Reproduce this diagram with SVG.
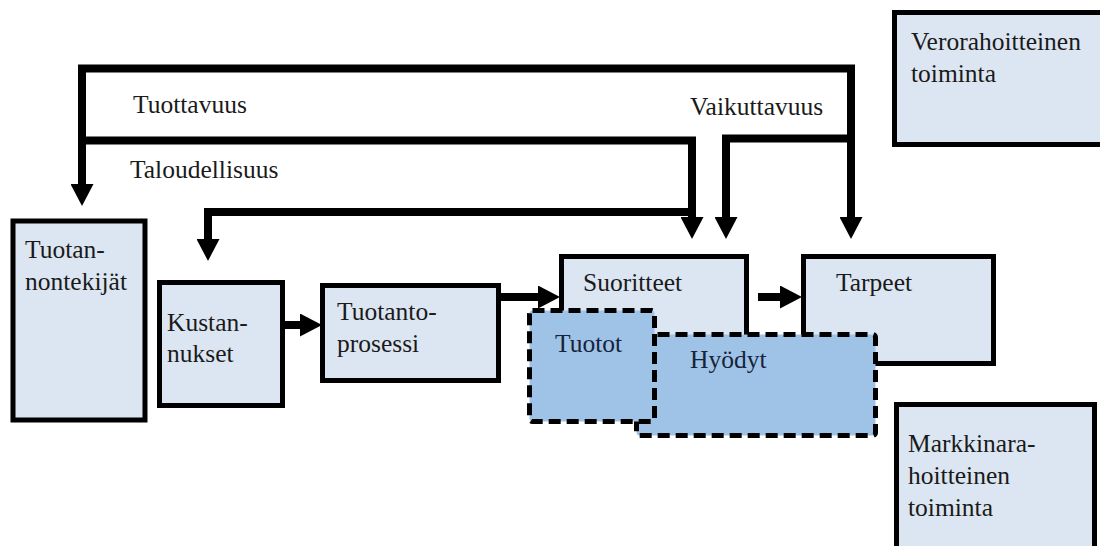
<svg xmlns="http://www.w3.org/2000/svg" width="1100" height="546" viewBox="0 0 1100 546">
  <style>
    .box { fill: #dce6f2; stroke: #000; stroke-width: 5; }
    .dash { fill: #9fc3e7; stroke: #000; stroke-width: 5; stroke-dasharray: 12 6; }
    .conn { fill: none; stroke: #000; stroke-width: 8; stroke-linejoin: miter; }
    .t { font-family: "Liberation Serif", "DejaVu Serif", "Times New Roman", serif; font-size: 25.5px; fill: #1a1a1a; }
    .td { font-family: "Liberation Serif", "DejaVu Serif", "Times New Roman", serif; font-size: 25.5px; fill: #16233a; }
  </style>
  <defs>
    <marker id="ah" viewBox="0 0 22 23" refX="1" refY="11.5" markerWidth="22" markerHeight="23" markerUnits="userSpaceOnUse" orient="auto-start-reverse">
      <path d="M0,0 L22,11.5 L0,23 z" fill="#000"/>
    </marker>
  </defs>
  <rect width="1100" height="546" fill="#fff"/>

  <g id="connectors">
    <path class="conn" d="M82,185 V68.5 H851 V218" marker-start="url(#ah)" marker-end="url(#ah)"/>
    <path class="conn" d="M78,140.5 H692 V218" marker-end="url(#ah)"/>
    <path class="conn" d="M696,212 H208 V240" marker-end="url(#ah)"/>
    <path class="conn" d="M855,138.5 H726 V218" marker-end="url(#ah)"/>
    <path class="conn" d="M285,325 H301" marker-end="url(#ah)"/>
    <path class="conn" d="M501,297 H539" marker-end="url(#ah)"/>
    <path class="conn" d="M758,297 H781" marker-end="url(#ah)"/>
  </g>

  <g id="labels">
    <text class="t" x="133" y="113">Tuottavuus</text>
    <text class="t" x="130" y="178">Taloudellisuus</text>
    <text class="t" x="690" y="115">Vaikuttavuus</text>
  </g>

  <g id="node-tuotannontekijat">
    <rect class="box" x="13" y="221" width="132" height="199"/>
    <text class="t" x="25" y="258">Tuotan-</text>
    <text class="t" x="25" y="290">nontekijät</text>
  </g>
  <g id="node-kustannukset">
    <rect class="box" x="159.5" y="282.5" width="123" height="123"/>
    <text class="t" x="167" y="331">Kustan-</text>
    <text class="t" x="167" y="362">nukset</text>
  </g>
  <g id="node-tuotantoprosessi">
    <rect class="box" x="322.5" y="285.5" width="176" height="95"/>
    <text class="t" x="337" y="320">Tuotanto-</text>
    <text class="t" x="337" y="352">prosessi</text>
  </g>
  <g id="node-suoritteet">
    <rect class="box" x="561.5" y="256.5" width="185" height="90"/>
    <text class="t" x="583" y="291">Suoritteet</text>
  </g>
  <g id="node-tarpeet">
    <rect class="box" x="803.5" y="256.5" width="190" height="107"/>
    <text class="t" x="836" y="291">Tarpeet</text>
  </g>
  <g id="node-hyodyt">
    <rect class="dash" x="636.5" y="334.5" width="239" height="101" rx="3"/>
    <text class="td" x="690" y="368">Hyödyt</text>
  </g>
  <g id="node-tuotot">
    <rect class="dash" x="529.5" y="310.5" width="125" height="111" rx="3"/>
    <text class="td" x="555" y="352">Tuotot</text>
  </g>
  <g id="node-verorahoitteinen">
    <rect class="box" x="894.5" y="12.5" width="230" height="132"/>
    <text class="t" x="911" y="50">Verorahoitteinen</text>
    <text class="t" x="911" y="82">toiminta</text>
  </g>
  <g id="node-markkinarahoitteinen">
    <rect class="box" x="896.5" y="404.5" width="198" height="160"/>
    <text class="t" x="908" y="452">Markkinara-</text>
    <text class="t" x="908" y="484">hoitteinen</text>
    <text class="t" x="908" y="516">toiminta</text>
  </g>
</svg>
